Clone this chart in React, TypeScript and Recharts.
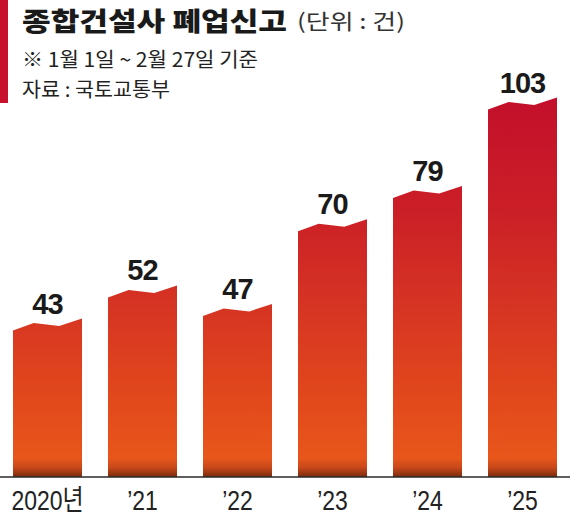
import React from "react";
import { BarChart, Bar, XAxis, YAxis, LabelList } from "recharts";

// 1월 1일 ~ 2월 27일 기준 종합건설사 폐업신고 건수
const years = ["2020년", "’21", "’22", "’23", "’24", "’25"];
const closures = [43, 52, 47, 70, 79, 103];

const data = years.map((year, i) => ({ year, count: closures[i] }));

const KR = '"Noto Sans CJK KR", "Noto Sans", sans-serif';
const NUM = '"Liberation Sans", Arial, "Noto Sans CJK KR", sans-serif';

// bar with a folded-paper top edge: left corner lowest, right corner = value
const WaveBar = (props: any) => {
  const { x, y, width, height } = props;
  if (!height) return null;
  const bottom = y + height;
  const d = [
    `M${x},${y + 12}`,
    `L${x + width * 0.3},${y + 4.5}`,
    `L${x + width * 0.67},${y + 7.5}`,
    `L${x + width},${y}`,
    `L${x + width},${bottom}`,
    `L${x},${bottom}`,
    "Z",
  ].join(" ");
  return <path d={d} fill="url(#barFill)" />;
};

const YearTick = (props: any) => {
  const { x, y, payload } = props;
  return (
    <g transform={`translate(${x},${y})`}>
      <text
        transform="scale(0.82,1)"
        x={0}
        y={25.5}
        textAnchor="middle"
        fontSize={28}
        fill="#222"
        fontFamily={NUM}
      >
        {payload.value}
      </text>
    </g>
  );
};

export default function App() {
  return (
    <div
      style={{
        position: "absolute",
        left: 0,
        top: 0,
        width: 570,
        height: 518,
        background: "#fff",
        overflow: "hidden",
      }}
    >
      <BarChart
        width={570}
        height={518}
        data={data}
        margin={{ top: 35, right: 0, left: 0, bottom: 0 }}
        barSize={69}
      >
        <defs>
          <linearGradient id="barFill" gradientUnits="userSpaceOnUse" x1={0} y1={97} x2={0} y2={477}>
            <stop offset="0" stopColor="#c30f2b" />
            <stop offset="0.3" stopColor="#cb1f27" />
            <stop offset="0.55" stopColor="#d63423" />
            <stop offset="0.8" stopColor="#e2491c" />
            <stop offset="0.95" stopColor="#e8561b" />
            <stop offset="0.975" stopColor="#c8481a" />
            <stop offset="1" stopColor="#7a2c0e" />
          </linearGradient>
        </defs>
        <YAxis hide domain={[0, 120]} />
        <XAxis
          dataKey="year"
          height={41}
          tickLine={false}
          axisLine={{ stroke: "#2a2a2a", strokeWidth: 1.5 }}
          tick={<YearTick />}
          interval={0}
        />
        <Bar dataKey="count" shape={<WaveBar />} isAnimationActive={false}>
          <LabelList
            dataKey="count"
            position="top"
            offset={5}
            style={{
              fontSize: 29,
              fontWeight: 700,
              fill: "#1a1a1a",
              fontFamily: NUM,
              letterSpacing: -1,
            }}
          />
        </Bar>
      </BarChart>

      <svg
        width={570}
        height={110}
        style={{ position: "absolute", left: 0, top: 0, pointerEvents: "none" }}
      >
        <rect x={0} y={0} width={8} height={103} fill="#c8102e" />
        <text
          x={22}
          y={31}
          fontSize={26.5}
          fontWeight={900}
          fill="#1a1a1a"
          fontFamily={KR}
          textLength={265}
          lengthAdjust="spacingAndGlyphs"
        >
          종합건설사 폐업신고
        </text>
        <text
          x={297}
          y={29}
          fontSize={21}
          fill="#333"
          fontFamily={KR}
          textLength={108}
          lengthAdjust="spacingAndGlyphs"
        >
          (단위 : 건)
        </text>
        <text
          x={22}
          y={66.5}
          fontSize={20}
          fill="#222"
          fontFamily={KR}
          textLength={236}
          lengthAdjust="spacingAndGlyphs"
        >
          ※ 1월 1일 ~ 2월 27일 기준
        </text>
        <text
          x={22}
          y={96.5}
          fontSize={20}
          fill="#222"
          fontFamily={KR}
          textLength={148}
          lengthAdjust="spacingAndGlyphs"
        >
          자료 : 국토교통부
        </text>
      </svg>
    </div>
  );
}
